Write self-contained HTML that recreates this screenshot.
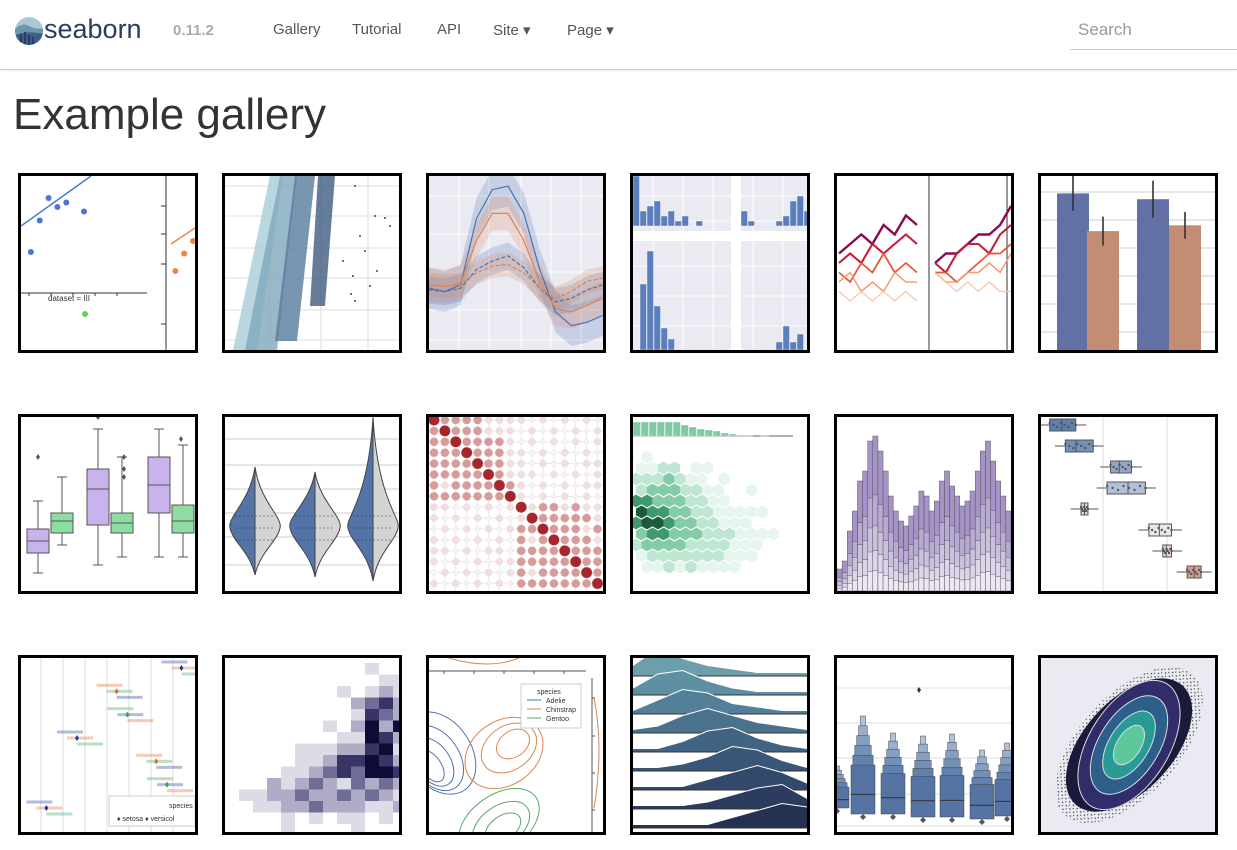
<!DOCTYPE html>
<html><head><meta charset="utf-8">
<style>
body{margin:0;width:1237px;height:850px;overflow:hidden;background:#fff;font-family:"Liberation Sans",sans-serif;position:relative}
.nav{position:absolute;top:0;left:0;width:1237px;height:69px;border-bottom:1px solid #ccc;box-shadow:0 1px 2px rgba(0,0,0,.08)}
.nav span{position:absolute;top:21px;font-size:15px;color:#555}
.thumb{position:absolute;width:174px;height:174px;border:3px solid #000;overflow:hidden;background:#fff}
.thumb svg{display:block}
h1{position:absolute;left:13px;top:90px;margin:0;font-weight:400;font-size:44px;color:#333}
</style></head><body>
<div class="nav">
 <svg style="position:absolute;left:14px;top:16px" width="30" height="30" viewBox="0 0 30 30"><defs><clipPath id="lc"><circle cx="15" cy="15" r="14"/></clipPath></defs><g clip-path="url(#lc)"><rect width="30" height="30" fill="#a9c7d4"/><path d="M0 14 Q8 6 15 10 T30 12 V30 H0Z" fill="#6d95ad"/><path d="M0 20 Q10 14 30 18 V30 H0Z" fill="#3f5f85"/><g fill="#2d3b63"><rect x="6" y="18" width="2" height="12"/><rect x="10" y="16" width="2" height="14"/><rect x="14" y="19" width="2" height="11"/><rect x="18" y="21" width="2" height="9"/></g></g></svg>
 <span style="left:44px;top:14px;font-size:27px;color:#2d3b63">seaborn</span>
 <span style="left:173px;top:22px;color:#aaa;font-weight:bold">0.11.2</span>
 <span style="left:273px">Gallery</span>
 <span style="left:352px">Tutorial</span>
 <span style="left:437px">API</span>
 <span style="left:493px">Site ▾</span>
 <span style="left:567px">Page ▾</span>
 <span style="left:1070px;top:20px;width:167px;height:30px;border-bottom:1px solid #ccc;font-size:17px;color:#999;padding-left:8px;box-sizing:border-box">Search</span>
</div>
<h1>Example gallery</h1>
<div id="grid"></div>
<script>
const NS="http://www.w3.org/2000/svg";
// ---- data arrays ----
const p1x=[1,2.5,4,5.5,7,10], p1y=[6,9.5,12,11,11.5,10.5];
const p1ox=[1,3,5], p1oy=[3,6.5,9];
const p2topL=[45,55,70,93], p2topR=[58,72,90,110], p2botL=[8,20,50,85], p2botR=[32,52,72,100], p2botY=[174,174,165,130];
const p2dotX=[130,135,150,160,165,140,128,118,126,145,130,152], p2dotY=[10,60,40,42,50,75,100,85,118,110,125,95];
const p3x=[0,1,2,3,4,5,6,7,8,9,10,11];
const p3a=[3.4,3.2,3.6,7.5,9.2,9.4,7.8,4.5,2.0,1.2,1.4,1.8];
const p3b=[3.6,3.5,3.7,6.2,7.8,7.8,6.2,3.8,2.2,2.0,2.4,2.8];
const p3c=[3.3,3.2,3.4,4.5,5.0,5.3,4.6,3.4,2.6,2.8,3.3,3.6];
const p3d=[3.6,3.5,3.6,4.3,4.7,4.8,4.3,3.4,2.8,3.2,3.8,4.0];
const p4a=[10,3,4,5,2,3,1,2,0,1], p4b=[3,1,0,0,0,1,2,5,6,3];
const p4c=[0,6,9,4,2,1,0,0,0,0], p4d=[0,0,0,0,0,1,3,1,2,0];
const p5series=[[5,6,7,6,8,7,9,8],[4,5,4,6,5,6,7,6],[3,2,4,3,5,3,4,3],[2,3,1,2,1,3,2,2],[1,0,1,0,1,0,1,0]];
const p5right=[[4,5,5,6,7,7,8,10],[4,3,5,6,6,5,7,8],[3,3,2,3,4,5,5,6],[3,2,2,3,3,4,3,5],[3,2,1,2,1,2,1,1]];
const p6vals=[27,20.5,26,21.5], p6err=[3,2.5,3.2,2.3];
const p7q1=[6,11,13,11,16,11], p7med=[9,14,22,13.5,23,14], p7q3=[12,16,27,16,30,18], p7lo=[1,8,3,5,5,5], p7hi=[19,25,37,30,37,33];
const p8mid=[50,50,50];
const p9rows=["3222211110101010","2322211101010101","2232222101010101","2223222110101010","2222322110101011","2222232111010101","2122223210101011","2222222310101010","1101010131221211","1010101013222221","0101010122322212","1010101021232221","1101011022223222","1010101122222322","0101010121222232","1010101022222223"];
const p10rows=["0100000000000","1122011000000","2223211010000","2333221100100","4433322110000","5443322111110","4554332211100","3443332221111","2333322221110","1222222211100","0112121111000"];
const p11a=[22,30,60,80,110,120,150,155,140,120,95,80,70,65,75,85,100,95,80,90,110,120,105,95,85,90,100,120,140,150,130,110,95,80];
const p12med=[12,20,45,50,25,68,72,88], p12q1=[5,14,40,38,23,62,70,84], p12q3=[20,30,52,60,27,75,75,92];
const p13cats=[0,1,2,3,4,5,6], p13means=[78,42,48,20,64,70,3];
const p14rows=["0000000000100","0000000000011","0000000010121","0000000002342","0000000001432","0000000102525","0000000011542","0000011122451","0000011244542","0000112343554","0002123213232","0112232232321","0011223222112","0000101011010","0000100001000"];
const p15a=[[10,95,32,45],[6,100,24,36],[4,104,17,27],[2,108,10,18]];
const p15b=[[75,95,42,32],[80,90,30,22],[84,86,18,13]];
const p15c=[[70,165,45,28],[72,168,32,20],[74,170,20,12]];
const p16rows=[[3,8,5,3,2,1,1,1],[2,6,7,4,2,1,1,1],[1,4,7,6,3,2,1,1],[1,2,5,7,5,3,2,1],[1,1,3,6,7,4,2,1],[1,1,2,4,7,6,3,1],[1,1,1,3,5,7,5,2],[1,1,1,2,4,6,7,3],[1,1,1,1,3,5,7,6]];
const p17bot=[150,156,156,159,159,161,158];
const p17top=[108,58,75,78,76,92,85];
const p17cx=[0,26,56,86,115,145,170];
const p18rings=[[72,40],[55,30],[38,20],[22,12]];

const grid=document.getElementById('grid');
const colsX=[18,222,426,630,834,1038], rowsY=[173,414,655];
const names=["anscombe-quartet","diamonds-scatter","timeseries-bands","pair-histograms","colored-lines","grouped-barplot","grouped-boxplot","split-violinplot","dot-heatmap","hexbin-joint","stacked-histogram","horizontal-boxplot","strip-pointplot","histogram-heatmap","kde-contours","ridge-plot","boxen-plot","joint-hist-kde"];
function mk(t,a,p){const e=document.createElementNS(NS,t);for(const k in a)e.setAttribute(k,a[k]);if(p)p.appendChild(e);return e;}
function panel(i){const d=document.createElement('div');d.className='thumb';d.style.left=colsX[i%6]+'px';d.style.top=rowsY[Math.floor(i/6)]+'px';


grid.appendChild(d);return mk('svg',{width:174,height:174,viewBox:'0 0 174 174'},d);}
function gray(s,gx,gy){mk('rect',{width:174,height:174,fill:'#eaeaf2'},s);gx.forEach(x=>mk('line',{x1:x,x2:x,y1:0,y2:174,stroke:'#fff','stroke-width':1},s));gy.forEach(y=>mk('line',{x1:0,x2:174,y1:y,y2:y,stroke:'#fff','stroke-width':1},s));}
function lin(d0,d1,r0,r1){return v=>r0+(v-d0)*(r1-r0)/(d1-d0);}
function path(pts){return 'M'+pts.map(p=>p[0].toFixed(1)+','+p[1].toFixed(1)).join('L');}

// 1
(function(){const s=panel(0);const x=lin(0,10,4,63),y=lin(0,14,130,4);
mk('line',{x1:145,x2:145,y1:0,y2:174,stroke:'#333'},s);mk('line',{x1:0,x2:126,y1:117,y2:117,stroke:'#333'},s);
[8,30,52,74,96].forEach(t=>mk('line',{x1:t,x2:t,y1:117,y2:120,stroke:'#333'},s));
[30,58,88,148].forEach(t=>mk('line',{x1:140,x2:145,y1:t,y2:t,stroke:'#333'},s));
mk('line',{x1:0,x2:70,y1:50,y2:0,stroke:'#4878d0','stroke-width':1.5},s);
p1x.forEach((v,i)=>{const c=mk('circle',{cx:x(v),cy:y(p1y[i]),r:3,fill:'#4878d0'},s);});
const xo=lin(0,5,150,172),yo=lin(0,10,110,60);
mk('line',{x1:150,x2:174,y1:68,y2:52,stroke:'#ee854a','stroke-width':1.5},s);
p1ox.forEach((v,i)=>mk('circle',{cx:xo(v),cy:yo(p1oy[i]),r:3,fill:'#ee854a'},s));
const t=mk('text',{x:27,y:125,'font-size':8,fill:'#333'},s);t.textContent='dataset = III';
mk('circle',{cx:64,cy:138,r:3,fill:'#6acc64'},s);})();
// 2
(function(){const s=panel(1);[45,96,143].forEach(x=>mk('line',{x1:x,x2:x,y1:0,y2:174,stroke:'#ddd'},s));[10,40,72,102,134,164].forEach(y=>mk('line',{x1:0,x2:174,y1:y,y2:y,stroke:'#ddd'},s));
const cols=['#a9cdd8','#7fa7bd','#577c9e','#3f5d82'];
p2topL.forEach((v,i)=>{mk('path',{d:`M${v},0L${p2topR[i]},0L${p2botR[i]},${p2botY[i]}L${p2botL[i]},${p2botY[i]}Z`,fill:cols[i],opacity:.8},s);});
p2dotX.forEach((v,i)=>mk('circle',{cx:v,cy:p2dotY[i],r:1,fill:'#33496a'},s));})();
// 3
(function(){const s=panel(2);gray(s,[30,60,92,122,152],[20,58,96,134,164]);const x=lin(0,11,0,174),y=lin(0,10,170,0);
function band(a,w,c){const up=p3x.map((v,i)=>[x(v),y(a[i]+w)]),dn=p3x.map((v,i)=>[x(v),y(a[i]-w)]).reverse();mk('path',{d:path(up.concat(dn))+'Z',fill:c,opacity:.22},s);}
band(p3a,1.2,'#4c72b0');band(p3b,1,'#dd8452');band(p3c,.8,'#4c72b0');band(p3d,.7,'#dd8452');
[[p3a,'#4c72b0',''],[p3b,'#dd8452',''],[p3c,'#4c72b0','4,2'],[p3d,'#dd8452','4,2']].forEach(([a,c,da])=>mk('path',{d:path(p3x.map((v,i)=>[x(v),y(a[i])])),fill:'none',stroke:c,'stroke-width':1.2,'stroke-dasharray':da},s));})();
// 4
(function(){const s=panel(3);gray(s,[20,50,80,120,150],[20,45,90,120,150]);mk('rect',{x:98,y:0,width:10,height:174,fill:'#fff'},s);mk('rect',{x:0,y:55,width:174,height:10,fill:'#fff'},s);
const c='#5b7fbd';function h(arr,x0,base,sc){arr.forEach((v,i)=>{if(v)mk('rect',{x:x0+i*7,y:base-v*sc,width:6.5,height:v*sc,fill:c,stroke:'#fff','stroke-width':.4},s);});}
h(p4a,0,50,5);h(p4b,108,50,5);h(p4c,0,174,11);h(p4d,108,174,8);})();
// 5
(function(){const s=panel(4);mk('line',{x1:92,x2:92,y1:0,y2:174,stroke:'#333'},s);mk('line',{x1:170,x2:170,y1:0,y2:174,stroke:'#333'},s);
const cols=['#8b0a50','#c41e3a','#e8573c','#f59b71','#f7c4a5'];const xl=lin(0,7,2,80),xr=lin(0,7,98,174),y=lin(0,10,125,30);
p5series.forEach((a,k)=>mk('path',{d:path(a.map((v,i)=>[xl(i),y(v)])),fill:'none',stroke:cols[k],'stroke-width':2.4-k*.3},s));
p5right.forEach((a,k)=>mk('path',{d:path(a.map((v,i)=>[xr(i),y(v)])),fill:'none',stroke:cols[k],'stroke-width':2.4-k*.3},s));})();
// 6
(function(){const s=panel(5);[16,44,72,100,128,156].forEach(y=>mk('line',{x1:0,x2:174,y1:y,y2:y,stroke:'#ccc'},s));const y=lin(0,30,174,0);const xs=[16,46,96,128],cs=['#6270a5','#c38d73','#6270a5','#c38d73'];
p6vals.forEach((v,i)=>{mk('rect',{x:xs[i],y:y(v),width:32,height:174-y(v),fill:cs[i]},s);mk('line',{x1:xs[i]+16,x2:xs[i]+16,y1:y(v+p6err[i]),y2:y(v-p6err[i]),stroke:'#333','stroke-width':1.6},s);});})();
// 7
(function(){const s=panel(6);const y=lin(0,40,160,0);const xs=[6,30,66,90,127,151],cs=['#c8b3ec','#8fdca2'];
p7q1.forEach((q,i)=>{const cx=xs[i]+11;mk('line',{x1:cx,x2:cx,y1:y(p7lo[i]),y2:y(p7hi[i]),stroke:'#555'},s);[p7lo[i],p7hi[i]].forEach(v=>mk('line',{x1:cx-5,x2:cx+5,y1:y(v),y2:y(v),stroke:'#555'},s));mk('rect',{x:xs[i],y:y(p7q3[i]),width:22,height:y(q)-y(p7q3[i]),fill:cs[i%2],stroke:'#555'},s);mk('line',{x1:xs[i],x2:xs[i]+22,y1:y(p7med[i]),y2:y(p7med[i]),stroke:'#555'},s);});
[[17,40],[77,0],[103,40],[103,52],[103,60],[160,22]].forEach(p=>mk('path',{d:`M${p[0]},${p[1]-3}l2,3l-2,3l-2,-3z`,fill:'#555'},s));})();
// 8
(function(){const s=panel(7);[22,48,72,96,120,148].forEach(y=>mk('line',{x1:0,x2:174,y1:y,y2:y,stroke:'#ccc'},s));[30,90,148].forEach((cx,i)=>{const t=[50,55,0][i],b=[158,160,164][i],m=p8mid[i]+55;
mk('path',{d:`M${cx},${t}C${cx-5},${m-20} ${cx-28},${m-5} ${cx-25},${m+6}C${cx-22},${m+20} ${cx-5},${m+30} ${cx},${b}Z`,fill:'#5473a6',stroke:'#444'},s);
mk('path',{d:`M${cx},${t}C${cx+5},${m-20} ${cx+28},${m-5} ${cx+25},${m+6}C${cx+22},${m+20} ${cx+5},${m+30} ${cx},${b}Z`,fill:'#d4d4d4',stroke:'#444'},s);
[m-6,m+6,m+18].forEach(yy=>mk('line',{x1:cx-20,x2:cx+20,y1:yy,y2:yy,stroke:'#333','stroke-dasharray':'2,2','stroke-width':.6},s));});})();
// 9
(function(){const s=panel(8);const cs=['#f8f4f6','#f2dede','#d99a9a','#a8262b'];const rs=[2.5,3.6,4.3,5.6];const st=10.9;
for(let k=0;k<16;k++){mk('line',{x1:5+k*st,x2:5+k*st,y1:0,y2:174,stroke:'#ddd','stroke-width':.6},s);mk('line',{x1:0,x2:174,y1:3+k*st,y2:3+k*st,stroke:'#ddd','stroke-width':.6},s);}
p9rows.forEach((r,j)=>r.split('').forEach((v,i)=>{mk('circle',{cx:5+i*st,cy:3+j*st,r:rs[+v],fill:cs[+v],stroke:'#ddd','stroke-width':.4},s);}));})();
// 10
(function(){const s=panel(9);const cs=['#fff','#e6f5ee','#bfe6d2','#84cca8','#3f9a6e','#1c5a3e'];
p10rows.forEach((r,j)=>r.split('').forEach((v,i)=>{if(+v){const cx=3+i*11+(j%2)*5.5,cy=40+j*11;mk('path',{d:`M${cx},${cy-6.5}l5.6,3.2v6.5l-5.6,3.2l-5.6,-3.2v-6.5z`,fill:cs[+v]},s);}}));
mk('line',{x1:0,x2:160,y1:19,y2:19,stroke:'#666'},s);[14,14,14,14,14,14,11,9,7,6,5,3,2,1,1,0,1].forEach((v,i)=>mk('rect',{x:i*8,y:19-v,width:7.5,height:v,fill:'#7fcaa5',stroke:'#fff','stroke-width':.4},s));})();
// 11
(function(){const s=panel(10);const w=174/p11a.length;const layers=[[1,'#a593c7'],[.62,'#b9aad3'],[.42,'#cbc0de'],[.26,'#ddd5ea'],[.13,'#ece7f3']];
layers.forEach(([f,c])=>p11a.forEach((v,i)=>{const h=v*f;mk('rect',{x:i*w,y:174-h,width:w,height:h,fill:c,stroke:'#444','stroke-width':.4},s);}));})();
// 12
(function(){const s=panel(11);[62,126].forEach(x=>mk('line',{x1:x,x2:x,y1:0,y2:174,stroke:'#ddd'},s));const x=lin(0,100,0,174);const cs=['#5e7fab','#7590b8','#93a8c8','#b1c0d8','#d0dae8','#eae5e8','#f0d4d0','#d89a8c'];
p12med.forEach((m,i)=>{const cy=8+i*21;mk('line',{x1:x(p12q1[i]-6),x2:x(p12q3[i]+6),y1:cy,y2:cy,stroke:'#555'},s);mk('rect',{x:x(p12q1[i]),y:cy-6,width:x(p12q3[i])-x(p12q1[i]),height:12,fill:cs[i],stroke:'#555'},s);mk('line',{x1:x(m),x2:x(m),y1:cy-6,y2:cy+6,stroke:'#555'},s);
for(let k=0;k<8;k++)mk('circle',{cx:x(p12q1[i]+(p12q3[i]-p12q1[i])*k/7),cy:cy+((k%3)-1)*2,r:1.2,fill:'#555'},s);});})();
// 13
(function(){const s=panel(12);[20,42,64,86,108,130,152].forEach(x=>mk('line',{x1:x,x2:x,y1:0,y2:174,stroke:'#ddd'},s));const y=lin(0,6,10,150),cs=['#1f3e9a','#e36a2c','#3aa357'];
p13cats.forEach((c,i)=>{const cx=p13means[i]*1.8+20;[-6,0,6].forEach((dy,k)=>{mk('rect',{x:cx-20+k*10,y:y(c)+dy-1.5,width:26,height:3,fill:cs[(i+k)%3],opacity:.35},s);});mk('path',{d:`M${cx},${y(c)-3}l2,3l-2,3l-2,-3z`,fill:cs[i%3]},s);});
mk('rect',{x:88,y:138,width:86,height:30,fill:'#fff',stroke:'#ccc'},s);const t=mk('text',{x:148,y:150,'font-size':7,fill:'#333'},s);t.textContent='species';const t2=mk('text',{x:96,y:163,'font-size':7,fill:'#333'},s);t2.textContent='♦ setosa   ♦ versicol';})();
// 14
(function(){const s=panel(13);const cs=['#fff','#dcdbe6','#aeacc6','#6f6c97','#383566','#0e0c35'];p14rows.forEach((r,j)=>r.split('').forEach((v,i)=>{if(+v)mk('rect',{x:0+i*14,y:5+j*11.5,width:14,height:11.5,fill:cs[+v]},s);}));})();
// 15
(function(){const s=panel(14);[[p15a,'#4c72b0'],[p15b,'#dd8452'],[p15c,'#55a868']].forEach(([a,c])=>a.forEach(e=>mk('ellipse',{cx:e[0],cy:e[1],rx:e[2],ry:e[3],fill:'none',stroke:c,'stroke-width':1,transform:`rotate(-35 ${e[0]} ${e[1]})`},s)));
mk('line',{x1:0,x2:157,y1:13,y2:13,stroke:'#555'},s);mk('line',{x1:163,x2:163,y1:20,y2:174,stroke:'#555'},s);
[15,45,75,105,135].forEach(t=>mk('line',{x1:t,x2:t,y1:13,y2:16,stroke:'#555'},s));[40,78,115,152].forEach(t=>mk('line',{x1:163,x2:166,y1:t,y2:t,stroke:'#555'},s));
mk('path',{d:'M20,0Q60,12 90,0',fill:'none',stroke:'#dd8452'},s);mk('path',{d:'M165,40Q175,90 165,150',fill:'none',stroke:'#dd8452'},s);
mk('rect',{x:92,y:26,width:60,height:44,fill:'#fff',stroke:'#ccc'},s);['species','Adelie','Chinstrap','Gentoo'].forEach((l,i)=>{const t=mk('text',{x:i?117:108,y:36+i*9,'font-size':7,fill:'#333'},s);t.textContent=l;if(i)mk('line',{x1:98,x2:112,y1:33+i*9,y2:33+i*9,stroke:['','#4c72b0','#dd8452','#55a868'][i]},s);});})();
// 16
(function(){const s=panel(15);const cs=['#6d9eac','#5f8fa2','#538098','#4a728d','#416483','#395678','#32496c','#2b3c5f','#243151'];const x=lin(0,7,0,174);
p16rows.forEach((r,j)=>{const base=18+j*19;const pts=r.map((v,i)=>[x(i),base-v*3.5]);mk('path',{d:'M0,'+base+'L'+pts.map(p=>p.join(',')).join('L')+'L174,'+base+'Z',fill:cs[j]},s);mk('line',{x1:0,x2:174,y1:base,y2:base,stroke:'#333'},s);mk('path',{d:path(pts),fill:'none',stroke:'#fff','stroke-width':1},s);});})();
// 17
(function(){const s=panel(16);[30,65,100,136,168].forEach(y=>mk('line',{x1:0,x2:174,y1:y,y2:y,stroke:'#ddd'},s));const cs=['#5573a3','#6381ad','#7390b8','#859fc3','#9aafce','#b1c2da'];
p17cx.forEach((cx,i)=>{const t=p17top[i],b=p17bot[i],H=b-t;
 for(let k=5;k>=0;k--){const w=24-k*3.8;const yt=b-H*(0.5+k*0.1);const yb=b-H*0.02*k;mk('rect',{x:cx-w/2,y:yt,width:w,height:yb-yt,fill:cs[k],stroke:'#444','stroke-width':.5},s);}
 mk('line',{x1:cx-12,x2:cx+12,y1:b-H*0.2,y2:b-H*0.2,stroke:'#333'},s);
 mk('path',{d:`M${cx},${b}l3,3l-3,3l-3,-3z`,fill:'#555'},s);});
mk('path',{d:'M82,29l2,3l-2,3l-2,-3z',fill:'#333'},s);})();
// 18
(function(){const s=panel(17);mk('rect',{width:174,height:174,fill:'#eaeaf2'},s);
const d=mk('defs',{},s);const pt=mk('pattern',{id:'spk',width:5,height:5,patternUnits:'userSpaceOnUse'},d);mk('circle',{cx:1,cy:1,r:.7,fill:'#333'},pt);mk('circle',{cx:3.5,cy:3,r:.6,fill:'#333'},pt);
mk('ellipse',{cx:88,cy:87,rx:95,ry:50,fill:'url(#spk)',transform:'rotate(-48 88 87)'},s);
mk('ellipse',{cx:88,cy:87,rx:80,ry:45,fill:'#1a1b3a',transform:'rotate(-48 88 87)'},s);
const cs=['#312d6b','#2c5f8a','#2a9a96','#5dc79c'];p18rings.forEach((r,i)=>mk('ellipse',{cx:88,cy:87,rx:r[0],ry:r[1],fill:cs[i],stroke:'#ddd','stroke-width':1,'transform':'rotate(-58 88 87)'},s));})();
</script>
</body></html>
